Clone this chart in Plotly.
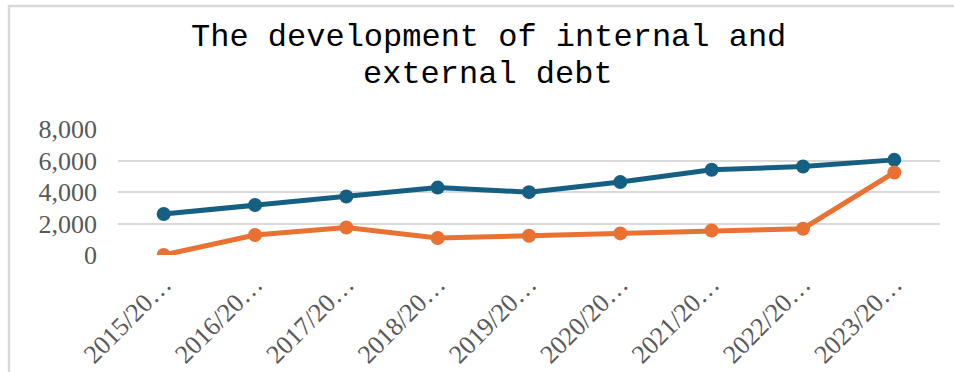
import plotly.graph_objects as go

categories = ["2015/2016", "2016/2017", "2017/2018", "2018/2019", "2019/2020",
              "2020/2021", "2021/2022", "2022/2023", "2023/2024"]
tick_labels = ["2015/20…", "2016/20…", "2017/20…", "2018/20…", "2019/20…",
               "2020/20…", "2021/20…", "2022/20…", "2023/20…"]
internal_debt = [2600, 3170, 3710, 4280, 3990, 4630, 5410, 5620, 6040]
external_debt = [0, 1270, 1750, 1080, 1220, 1370, 1560, 1670, 5240]
title_lines = ["The development of internal and", "external debt"]
y_ticks = [0, 2000, 4000, 6000, 8000]

W, H = 954, 372
L, R, T, B = 118, 14, 129, 117
pw, ph = W - L - R, H - T - B

fig = go.Figure()
fig.add_trace(go.Scatter(x=categories, y=internal_debt, mode="lines+markers",
                         name="Internal debt",
                         line=dict(color="#156082", width=5),
                         marker=dict(color="#156082", size=14)))
fig.add_trace(go.Scatter(x=categories, y=external_debt, mode="lines+markers",
                         name="External debt",
                         line=dict(color="#E97132", width=5),
                         marker=dict(color="#E97132", size=14)))

def px_x(x):
    return (x - L) / pw

def px_y(y):
    return (H - B - y) / ph

shapes = [
    dict(type="line", xref="paper", yref="paper", x0=px_x(9), x1=px_x(9),
         y0=px_y(5), y1=px_y(380), line=dict(color="#D9D9D9", width=2.5)),
    dict(type="line", xref="paper", yref="paper", x0=px_x(8), x1=px_x(960),
         y0=px_y(6), y1=px_y(6), line=dict(color="#D9D9D9", width=2.5)),
]

annotations = []
for txt, yc in zip(title_lines, [38, 74.5]):
    annotations.append(dict(text=txt, xref="paper", yref="paper",
                            x=px_x(488), y=px_y(yc), xanchor="center", yanchor="middle",
                            showarrow=False, borderpad=0,
                            font=dict(family="Liberation Mono", size=32, color="#000000")))

fig.update_layout(
    width=W, height=H,
    margin=dict(l=L, r=R, t=T, b=B),
    paper_bgcolor="white", plot_bgcolor="white",
    showlegend=False,
    shapes=shapes,
    annotations=annotations,
    xaxis=dict(type="category", categoryorder="array", categoryarray=categories,
               tickmode="array", tickvals=categories, ticktext=tick_labels,
               tickangle=-45, range=[-0.5, 8.5], showgrid=False, zeroline=False,
               showline=False, ticks="", ticklabelstandoff=8, automargin=False,
               tickfont=dict(family="Liberation Serif", size=26, color="#595959")),
    yaxis=dict(range=[0, 8000], tickmode="array", tickvals=y_ticks, tickformat=",",
               showgrid=True, gridcolor="#D9D9D9", gridwidth=1.8,
               zeroline=False, showline=False, ticks="", ticklabelstandoff=20,
               automargin=False,
               tickfont=dict(family="Liberation Serif", size=26, color="#595959")),
)

fig.write_html("out.html")
